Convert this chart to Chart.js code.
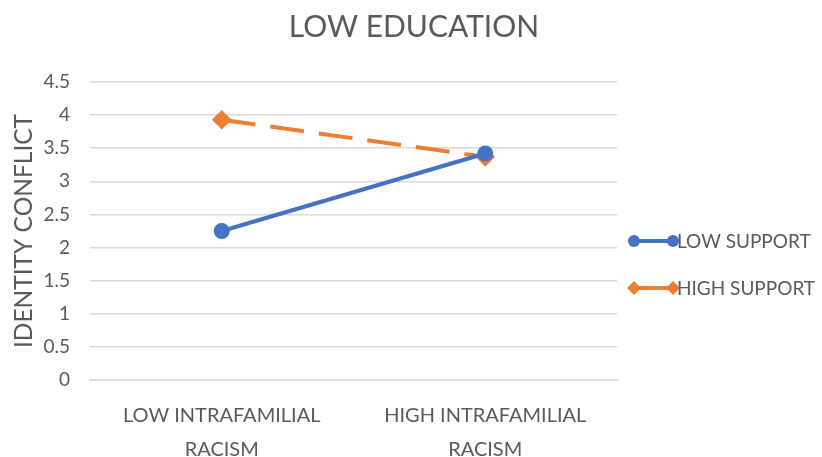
<!DOCTYPE html>
<html>
<head>
<meta charset="utf-8">
<script src="https://cdn.jsdelivr.net/npm/chart.js@4/dist/chart.umd.min.js"></script>
<style>
  html, body { margin: 0; padding: 0; background: #ffffff; }
  #wrap { width: 822px; height: 457px; }
</style>
</head>
<body>
<div id="wrap"><canvas id="chart" width="822" height="457"></canvas></div>
<script>
// Categories and series
const categories = [['LOW INTRAFAMILIAL', 'RACISM'], ['HIGH INTRAFAMILIAL', 'RACISM']];
const lowSupport = [2.25, 3.42];
const highSupport = [3.93, 3.37];
const seriesNames = ['LOW SUPPORT', 'HIGH SUPPORT'];
const chartTitle = 'LOW EDUCATION';
const yAxisTitle = 'IDENTITY CONFLICT';

const FONT = 'Lato, "Open Sans", sans-serif';
const TEXT = '#595959';
const BLUE = '#4472C4';
const ORANGE = '#ED7D31';

// Title centred over the whole figure, above the plot
const topTitle = {
  id: 'topTitle',
  afterDraw(chart) {
    const ctx = chart.ctx;
    ctx.save();
    ctx.fillStyle = TEXT;
    ctx.font = '30px ' + FONT;
    ctx.textAlign = 'center';
    ctx.textBaseline = 'middle';
    ctx.fillText(chartTitle, 414, 27);
    ctx.restore();
  }
};

// Excel-style legend: a short line with a marker at each end
const sideLegend = {
  id: 'sideLegend',
  afterDraw(chart) {
    const ctx = chart.ctx;
    const x0 = 634, x1 = 673;
    const rows = [241, 288];
    chart.data.datasets.forEach((ds, i) => {
      const y = rows[i];
      ctx.save();
      ctx.strokeStyle = ds.borderColor;
      ctx.lineWidth = 4;
      ctx.beginPath();
      ctx.moveTo(x0, y);
      ctx.lineTo(x1, y);
      ctx.stroke();
      ctx.fillStyle = ds.pointBackgroundColor;
      [x0, x1].forEach(px => {
        ctx.beginPath();
        if (ds.pointStyle === 'rectRot') {
          const r = 7;
          ctx.moveTo(px, y - r);
          ctx.lineTo(px + r, y);
          ctx.lineTo(px, y + r);
          ctx.lineTo(px - r, y);
          ctx.closePath();
        } else {
          ctx.arc(px, y, 6, 0, Math.PI * 2);
        }
        ctx.fill();
      });
      ctx.fillStyle = TEXT;
      ctx.font = '19px ' + FONT;
      ctx.textBaseline = 'middle';
      ctx.textAlign = 'left';
      ctx.fillText(ds.label, 677, y + 1);
      ctx.restore();
    });
  }
};

new Chart(document.getElementById('chart'), {
  type: 'line',
  data: {
    labels: categories,
    datasets: [
      {
        label: seriesNames[0],
        data: lowSupport,
        borderColor: BLUE,
        backgroundColor: BLUE,
        pointBackgroundColor: BLUE,
        pointBorderColor: BLUE,
        borderWidth: 4,
        pointStyle: 'circle',
        pointRadius: 6,
        pointHoverRadius: 6,
        tension: 0
      },
      {
        label: seriesNames[1],
        data: highSupport,
        borderColor: ORANGE,
        backgroundColor: ORANGE,
        pointBackgroundColor: ORANGE,
        pointBorderColor: ORANGE,
        borderWidth: 4,
        borderDash: [34, 15],
        pointStyle: 'rectRot',
        pointRadius: 7,
        pointHoverRadius: 7,
        tension: 0
      }
    ]
  },
  options: {
    responsive: false,
    animation: false,
    events: [],
    layout: { padding: { left: 0, right: 205, top: 82, bottom: 0 } },
    plugins: {
      legend: { display: false },
      tooltip: { enabled: false },
      title: { display: false }
    },
    scales: {
      x: {
        offset: true,
        grid: { display: false, drawTicks: false },
        border: { display: true, color: '#d9d9d9', width: 1.5 },
        ticks: {
          color: TEXT,
          font: { family: FONT, size: 20, lineHeight: 1.72 },
          padding: 18,
          maxRotation: 0,
          autoSkip: false
        },
        afterFit(scale) { scale.height = 77; }
      },
      y: {
        min: 0,
        max: 4.5,
        grid: { color: '#d9d9d9', lineWidth: 1.5, drawTicks: false },
        border: { display: false },
        ticks: {
          stepSize: 0.5,
          color: TEXT,
          font: { family: FONT, size: 19 },
          padding: 20,
          callback: v => String(v)
        },
        title: {
          display: true,
          text: yAxisTitle,
          color: TEXT,
          font: { family: FONT, size: 24.5, weight: 'normal' },
          padding: { top: 9, bottom: 0 }
        },
        afterFit(scale) { scale.width = 90; }
      }
    }
  },
  plugins: [topTitle, sideLegend]
});
</script>
</body>
</html>
